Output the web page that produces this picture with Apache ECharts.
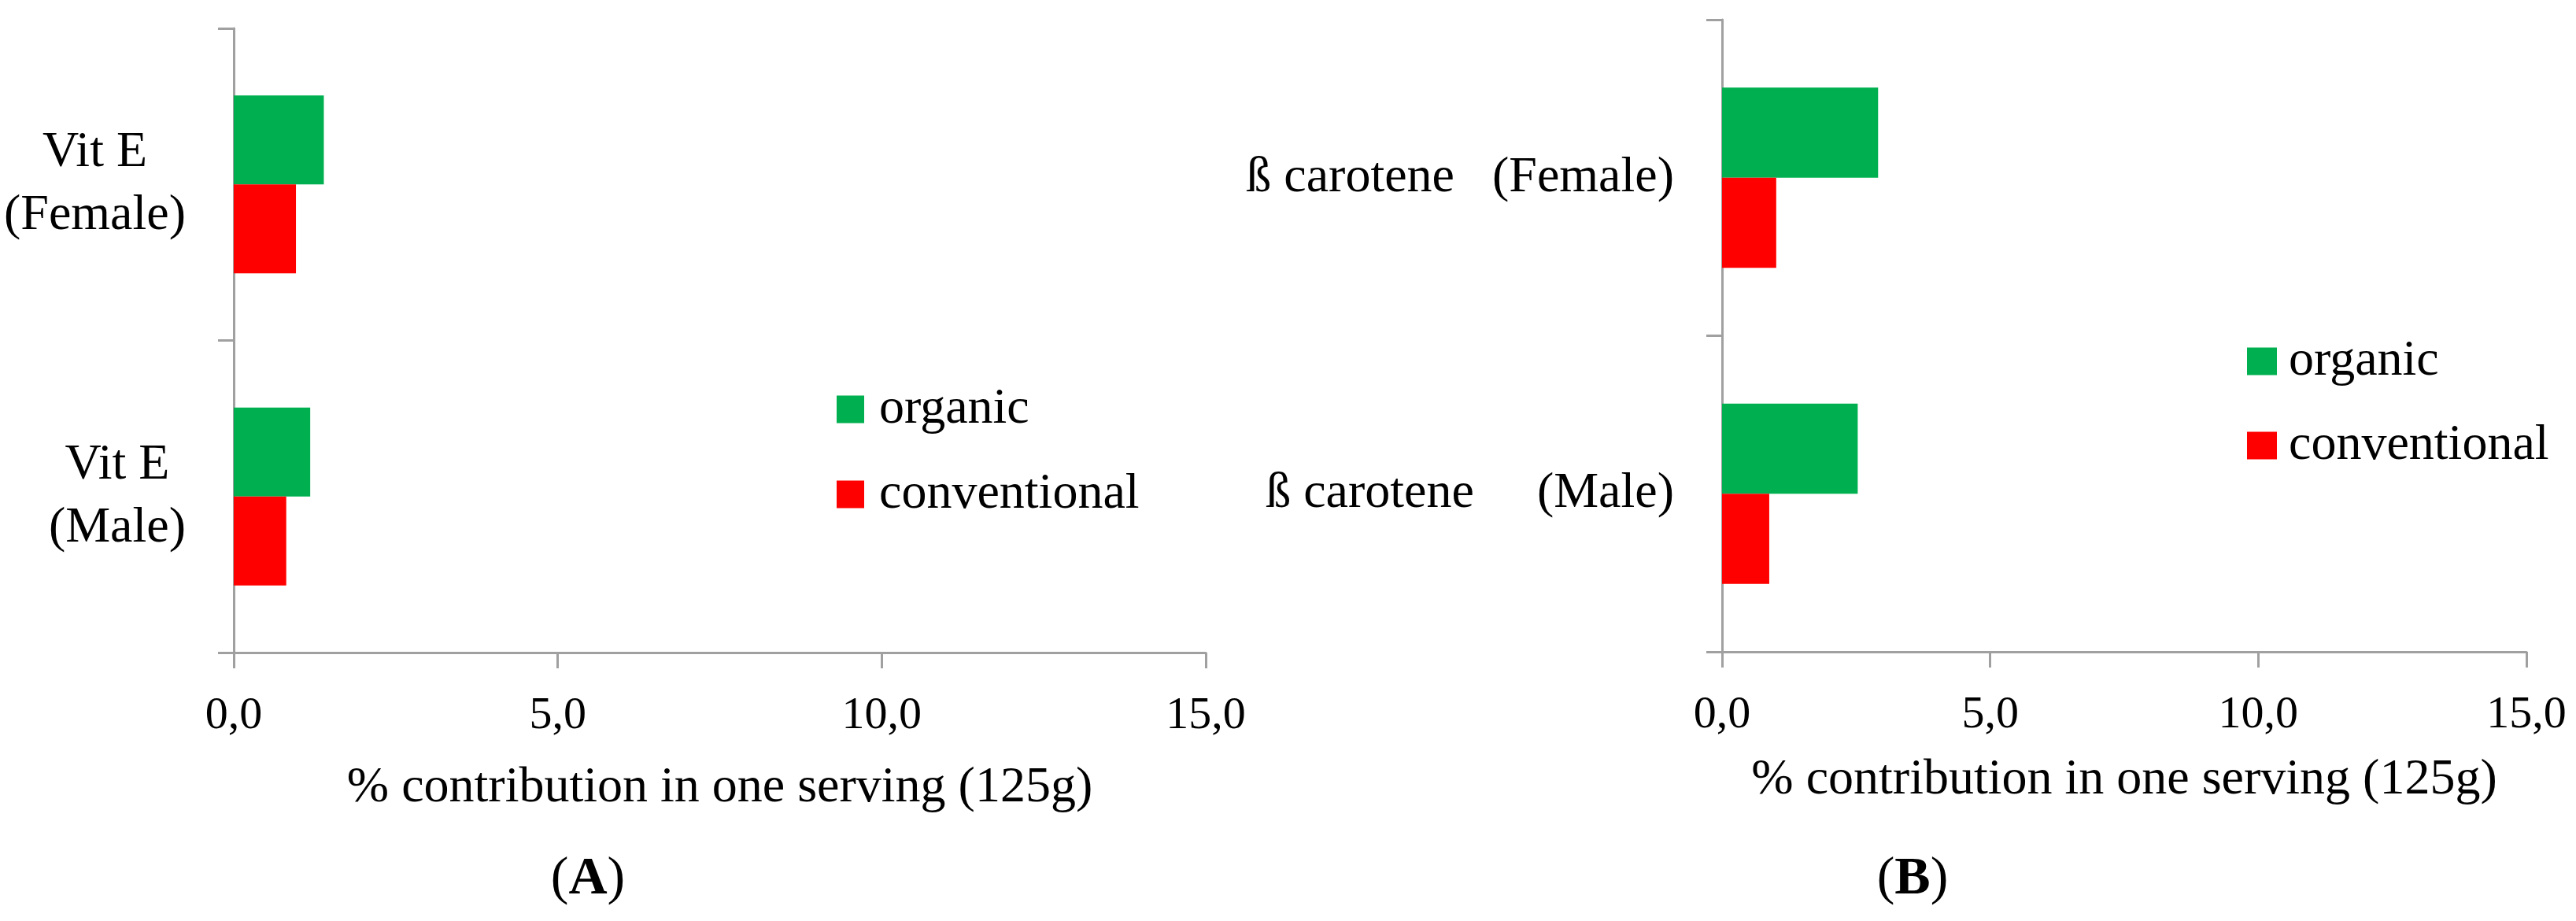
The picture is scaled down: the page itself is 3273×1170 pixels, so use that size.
<!DOCTYPE html>
<html>
<head>
<meta charset="utf-8">
<script src="https://cdn.jsdelivr.net/npm/echarts@6/dist/echarts.min.js"></script>
<style>
html,body{margin:0;padding:0;background:#fff;}
#chart{width:3273px;height:1170px;}
</style>
</head>
<body>
<div id="chart"></div>
<script>
// ---- data ----
var seriesNames = ['organic', 'conventional'];
var categoriesA = ['Vit E\n(Male)', 'Vit E\n(Female)'];
var organicA = [1.18, 1.39];
var conventionalA = [0.81, 0.96];
var categoriesB = ['ß carotene     (Male)', 'ß carotene   (Female)'];
var organicB = [2.53, 2.91];
var conventionalB = [0.88, 1.01];
var xTicks = [0, 5, 10, 15];
var xAxisTitle = '% contribution in one serving (125g)';
var panelLabels = ['A', 'B'];

var FONT = 'Liberation Serif';
var AXIS_COLOR = '#A0A0A0';
var GREEN = '#00B050';
var RED = '#FF0000';

function xAxisCfg(gridIndex, nameGap) {
  return {
    type: 'value', gridIndex: gridIndex,
    min: xTicks[0], max: xTicks[xTicks.length - 1], interval: xTicks[1] - xTicks[0],
    axisLine: {show: true, lineStyle: {color: AXIS_COLOR, width: 3}},
    axisTick: {show: true, length: 20, lineStyle: {color: AXIS_COLOR, width: 3}},
    splitLine: {show: false},
    axisLabel: {
      margin: 52, color: '#000', fontFamily: FONT, fontSize: 58,
      formatter: function (v) { return v.toFixed(1).replace('.', ','); }
    },
    name: xAxisTitle, nameLocation: 'middle', nameGap: nameGap,
    nameTextStyle: {color: '#000', fontFamily: FONT, fontSize: 64}
  };
}
function yAxisCfg(gridIndex, cats, multi) {
  var lab = {
    margin: 61, color: '#000', fontFamily: FONT, fontSize: 64
  };
  if (multi) {
    lab.formatter = function (v) {
      return v.split('\n').map(function (s) { return '{c|' + s + '}'; }).join('\n');
    };
    lab.rich = {c: {align: 'center', fontFamily: FONT, fontSize: 64, lineHeight: 80, color: '#000'}};
  }
  return {
    type: 'category', gridIndex: gridIndex, data: cats,
    axisLine: {show: true, lineStyle: {color: AXIS_COLOR, width: 3}},
    axisTick: {show: true, length: 20, alignWithLabel: false, lineStyle: {color: AXIS_COLOR, width: 3}},
    splitLine: {show: false},
    axisLabel: lab
  };
}
function barSeries(name, data, idx, color) {
  return {
    type: 'bar', name: name, data: data, xAxisIndex: idx, yAxisIndex: idx,
    itemStyle: {color: color},
    barGap: '0%', barCategoryGap: '43%',
    silent: true
  };
}

var chart = echarts.init(document.getElementById('chart'), null, {renderer: 'canvas'});
var option = {
  backgroundColor: '#fff',
  animation: false,
  grid: [
    {left: 297, top: 36, width: 1235, height: 793, containLabel: false},
    {left: 2188, top: 25, width: 1022, height: 803, containLabel: false}
  ],
  xAxis: [xAxisCfg(0, 140), xAxisCfg(1, 131)],
  yAxis: [yAxisCfg(0, categoriesA, true), yAxisCfg(1, categoriesB, false)],
  legend: [
    {
      orient: 'vertical', left: 1058, top: 475, itemWidth: 35, itemHeight: 35, itemGap: 28,
      icon: 'rect', data: seriesNames,
      textStyle: {fontFamily: FONT, fontSize: 64, color: '#000', lineHeight: 64, padding: [0, 0, 16, 14]}
    },
    {
      orient: 'vertical', left: 2850, top: 414, itemWidth: 38, itemHeight: 35, itemGap: 27,
      icon: 'rect', data: seriesNames,
      textStyle: {fontFamily: FONT, fontSize: 64, color: '#000', lineHeight: 64, padding: [0, 0, 16, 10]}
    }
  ],
  series: [
    barSeries(seriesNames[0], organicA, 0, GREEN),
    barSeries(seriesNames[1], conventionalA, 0, RED),
    barSeries(seriesNames[0], organicB, 1, GREEN),
    barSeries(seriesNames[1], conventionalB, 1, RED)
  ],
  graphic: [
    {type: 'text', x: 747, y: 1117, style: {
      text: '{p|(}{b|' + panelLabels[0] + '}{p|)}', align: 'center', verticalAlign: 'middle',
      rich: {p: {fontFamily: FONT, fontSize: 68, fill: '#000'}, b: {fontFamily: FONT, fontSize: 68, fontWeight: 'bold', fill: '#000'}}
    }},
    {type: 'text', x: 2430, y: 1117, style: {
      text: '{p|(}{b|' + panelLabels[1] + '}{p|)}', align: 'center', verticalAlign: 'middle',
      rich: {p: {fontFamily: FONT, fontSize: 68, fill: '#000'}, b: {fontFamily: FONT, fontSize: 68, fontWeight: 'bold', fill: '#000'}}
    }}
  ]
};
chart.setOption(option);
</script>
</body>
</html>
